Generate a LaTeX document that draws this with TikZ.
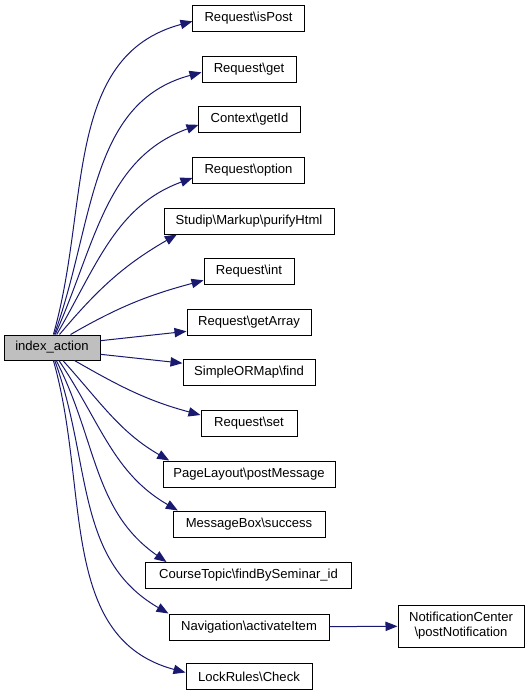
\documentclass[tikz,border=0pt]{standalone}
\usepackage{fontspec}
\setmainfont{Liberation Sans}
\usepackage{xcolor}
\usetikzlibrary{arrows.meta}
\definecolor{nb}{HTML}{191970}
\definecolor{gr}{HTML}{BFBFBF}

\begin{document}
\begin{tikzpicture}[
      x = 0.75pt, y = 0.75pt, % one unit per pixel
      > = {Triangle[length = 9pt, width = 7pt]}, % arrow head style
      every edge/.style = {draw = nb, line width = 0.75pt}, % call lines
      font = \fontsize{9.8}{11.3}\selectfont,
    ]

    \tikzstyle{func}=[
      draw = black,
      line width = 0.75pt,
      fill = white,
      inner sep = 1pt,
      minimum height = 19.5pt
    ]

    \useasboundingbox (0, 0) rectangle (531, -696);

    \node[func, fill = gr, minimum width = 72pt, minimum height = 18.75pt] (ia) [at={(52, -347.5)}] {index\_action};
    \node[func, minimum width = 83.3pt] (isPost) [at={(248.5, -18)}] {Request\textbackslash isPost};
    \node[func, minimum width = 70.5pt] (get) [at={(249, -69)}] {Request\textbackslash get};
    \node[func, minimum width = 75.8pt] (getId) [at={(249.5, -119.5)}] {Context\textbackslash getId};
    \node[func, minimum width = 83.3pt] (option) [at={(248.5, -170)}] {Request\textbackslash option};
    \node[func, minimum width = 127.5pt] (purify) [at={(249, -221)}] {Studip\textbackslash Markup\textbackslash purifyHtml};
    \node[func, minimum width = 67.5pt] (int) [at={(249, -271)}] {Request\textbackslash int};
    \node[func, minimum width = 93pt] (getArray) [at={(249, -322)}] {Request\textbackslash getArray};
    \node[func, minimum width = 99pt] (find) [at={(249, -372.5)}] {SimpleORMap\textbackslash find};
    \node[func, minimum width = 72pt] (set) [at={(249, -423)}] {Request\textbackslash set};
    \node[func, minimum width = 129pt] (postMessage) [at={(249, -474)}] {PageLayout\textbackslash postMessage};
    \node[func, minimum width = 114pt] (success) [at={(249, -524)}] {MessageBox\textbackslash success};
    \node[func, minimum width = 153.8pt] (findBySem) [at={(248.5, -575.5)}] {CourseTopic\textbackslash findBySeminar\_id};
    \node[func, minimum width = 120pt] (activate) [at={(249, -627)}] {Navigation\textbackslash activateItem};
    \node[func, minimum width = 94.5pt] (check) [at={(249, -676.5)}] {LockRules\textbackslash Check};
    \node[func, align = center, minimum width = 94.5pt, minimum height = 31.5pt] (postNotif) [at={(461, -626)}] {NotificationCenter\\\textbackslash postNotification};

    % calls going up
    \path[->] (ia.84) edge[out = 74, in = 195] ([yshift = -2.5pt]isPost.west);
    \path[->] (ia.80) edge[out = 70, in = 195] ([yshift = -2.5pt]get.west);
    \path[->] (ia.76) edge[out = 66, in = 200] ([yshift = -4pt]getId.west);
    \path[->] (ia.70) edge[out = 60, in = 200] ([yshift = -6pt]option.west);
    \path[->] (ia.60) edge[out = 50, in = 210] ([xshift = 10pt]purify.south west);
    \path[->] (ia.35) edge[out = 30, in = 195] ([yshift = -7pt]int.west);
    \path[->] (ia.8) edge ([yshift = -7pt]getArray.west);
    % calls going down
    \path[->] (ia.-8) edge ([yshift = 7pt]find.west);
    \path[->] (ia.-30) edge[out = -30, in = 165] ([yshift = 6pt]set.west);
    \path[->] (ia.-50) edge[out = -48, in = 150] ([xshift = 5pt]postMessage.north west);
    \path[->] (ia.-62) edge[out = -56, in = 150] ([xshift = 4pt]success.north west);
    \path[->] (ia.-72) edge[out = -63, in = 145] ([xshift = 15.75pt]findBySem.north west);
    \path[->] (ia.-78) edge[out = -70, in = 150] (activate.north west);
    \path[->] (ia.-84) edge[out = -74, in = 165] ([yshift = 3pt]check.west);
    \path[->] (activate) edge (postNotif);

  \end{tikzpicture}
\end{document}
